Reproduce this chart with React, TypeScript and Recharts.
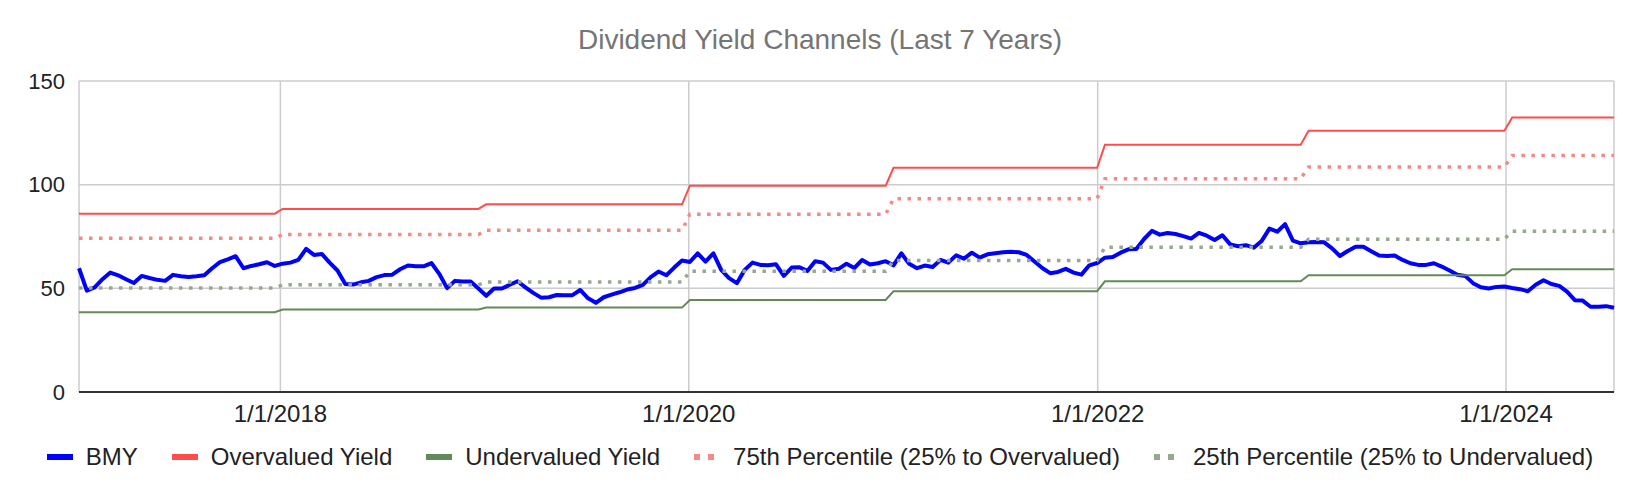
import { CartesianGrid, Line, LineChart, XAxis, YAxis } from 'recharts';

// biweekly samples, first one on 1/6/2017
const START_DATE = Date.UTC(2017, 0, 6);
const STEP_DAYS = 14;
const DAY_MS = 24 * 60 * 60 * 1000;

// BMY dividend yield (scaled), one value per sample
const BMY = [
    59.7, 48.9, 50.5, 54.4, 57.6, 56.3, 54.4, 52.6, 56.0, 55.0,
    54.1, 53.6, 56.5, 55.8, 55.5, 55.8, 56.3, 59.7, 62.6, 64.0,
    65.5, 59.7, 60.8, 61.6, 62.6, 60.8, 61.9, 62.4, 63.7, 69.0,
    66.1, 66.6, 62.4, 58.6, 52.1, 51.8, 52.9, 53.6, 55.4, 56.4,
    56.6, 59.2, 61.0, 60.6, 60.6, 62.2, 57.0, 50.1, 53.6, 53.3,
    53.3, 49.9, 46.4, 49.9, 49.9, 51.7, 53.4, 50.5, 47.8, 45.5,
    45.7, 46.8, 46.7, 46.7, 49.2, 45.2, 43.0, 45.7, 47.0, 48.1,
    49.4, 50.2, 51.7, 55.4, 58.1, 56.3, 60.0, 63.4, 62.7, 66.9,
    62.9, 66.9, 58.9, 54.9, 52.5, 58.9, 62.4, 61.3, 61.1, 61.6,
    56.0, 60.0, 60.2, 58.4, 63.1, 62.4, 58.9, 59.4, 61.9, 59.8,
    63.7, 61.5, 62.1, 63.1, 61.1, 66.9, 61.8, 59.7, 61.0, 60.3,
    63.7, 62.4, 65.9, 64.3, 67.2, 64.8, 66.4, 66.9, 67.4, 67.7,
    67.4, 66.1, 62.9, 59.8, 57.3, 57.9, 59.4, 57.6, 56.6, 61.1,
    62.2, 64.8, 65.1, 67.2, 68.8, 69.0, 73.8, 77.7, 75.9, 76.7,
    76.2, 75.2, 74.0, 76.7, 75.4, 73.3, 75.6, 71.2, 70.3, 70.8,
    69.6, 72.8, 78.8, 77.3, 81.0, 73.0, 71.7, 72.2, 72.3, 72.2,
    69.3, 65.6, 68.0, 70.1, 70.1, 67.9, 65.8, 65.6, 65.8, 63.7,
    62.1, 61.3, 61.3, 62.1, 60.5, 58.6, 56.5, 56.0, 52.5, 50.5,
    49.9, 50.7, 50.9, 50.2, 49.6, 48.6, 51.7, 53.9, 52.1, 51.2,
    48.4, 44.3, 44.1, 41.1, 41.1, 41.4, 40.6,
];

// channel levels, reset every January
const CHANNEL_YEARS = [2017, 2018, 2019, 2020, 2021, 2022, 2023, 2024];
const OVERVALUED = [86.0, 88.3, 90.5, 99.5, 108.1, 119.2, 126.0, 132.4];
const P75 = [74.1, 76.0, 78.0, 85.7, 93.2, 102.9, 108.5, 114.1];
const P25 = [50.2, 51.7, 53.0, 58.2, 63.4, 69.8, 73.7, 77.5];
const UNDERVALUED = [38.5, 39.8, 40.7, 44.4, 48.6, 53.4, 56.3, 59.2];

const X_TICKS = [Date.UTC(2018, 0, 1), Date.UTC(2020, 0, 1), Date.UTC(2022, 0, 1), Date.UTC(2024, 0, 1)];
const Y_TICKS = [0, 50, 100, 150];

const COLORS = {
    bmy: '#0000ff',
    over: '#ff4d4d',
    under: '#628a59',
    p75: '#f48a86',
    p25: '#96a98e',
};

const FONT = '"Liberation Sans", Arial, sans-serif';

const LEGEND_ITEMS = [
    { label: 'BMY', color: COLORS.bmy, dotted: false },
    { label: 'Overvalued Yield', color: COLORS.over, dotted: false },
    { label: 'Undervalued Yield', color: COLORS.under, dotted: false },
    { label: '75th Percentile (25% to Overvalued)', color: COLORS.p75, dotted: true },
    { label: '25th Percentile (25% to Undervalued)', color: COLORS.p25, dotted: true },
];

const chartData = BMY.map((value, i) => {
    const t = START_DATE + i * STEP_DAYS * DAY_MS;
    const idx = CHANNEL_YEARS.indexOf(new Date(t).getUTCFullYear());
    return {
        t,
        bmy: value,
        over: OVERVALUED[idx],
        under: UNDERVALUED[idx],
        p75: P75[idx],
        p25: P25[idx],
    };
});

function formatDate(t: number) {
    const d = new Date(t);
    return `${d.getUTCMonth() + 1}/${d.getUTCDate()}/${d.getUTCFullYear()}`;
}

function Swatch({ color, dotted }: { color: string; dotted: boolean }) {
    return (
        <svg width={26} height={8} style={{ display: 'block' }}>
            <line
                x1={0}
                y1={4}
                x2={26}
                y2={4}
                stroke={color}
                strokeWidth={6}
                strokeDasharray={dotted ? '6 8' : undefined}
            />
        </svg>
    );
}

export default function App() {
    document.body.style.margin = '0';

    return (
        <div style={{ position: 'relative', width: 1640, height: 494, background: '#fff', fontFamily: FONT }}>
            <div
                style={{
                    position: 'absolute',
                    top: 23,
                    left: 0,
                    width: 1640,
                    textAlign: 'center',
                    fontSize: 28,
                    lineHeight: '34px',
                    color: '#757575',
                }}
            >
                Dividend Yield Channels (Last 7 Years)
            </div>

            <LineChart width={1640} height={494} data={chartData} margin={{ top: 81, right: 26, bottom: 62, left: 0 }}>
                <CartesianGrid stroke="#cccccc" strokeWidth={1.5} />
                <XAxis
                    dataKey="t"
                    type="number"
                    scale="time"
                    domain={['dataMin', 'dataMax']}
                    ticks={X_TICKS}
                    tickFormatter={formatDate}
                    height={40}
                    axisLine={{ stroke: '#333333', strokeWidth: 2 }}
                    tickLine={false}
                    tickMargin={7}
                    tick={{ fontSize: 24, fill: '#222222', fontFamily: FONT }}
                />
                <YAxis
                    type="number"
                    domain={[0, 150]}
                    ticks={Y_TICKS}
                    width={79}
                    axisLine={false}
                    tickLine={false}
                    tickMargin={8}
                    tick={{ fontSize: 22, fill: '#222222', fontFamily: FONT }}
                />
                <Line
                    dataKey="bmy"
                    type="linear"
                    stroke={COLORS.bmy}
                    strokeWidth={4}
                    strokeLinejoin="round"
                    dot={false}
                    activeDot={false}
                    isAnimationActive={false}
                />
                <Line
                    dataKey="over"
                    type="linear"
                    stroke={COLORS.over}
                    strokeWidth={2}
                    dot={false}
                    activeDot={false}
                    isAnimationActive={false}
                />
                <Line
                    dataKey="under"
                    type="linear"
                    stroke={COLORS.under}
                    strokeWidth={2}
                    dot={false}
                    activeDot={false}
                    isAnimationActive={false}
                />
                <Line
                    dataKey="p75"
                    type="linear"
                    stroke={COLORS.p75}
                    strokeWidth={3.5}
                    strokeDasharray="3.5 6.5"
                    dot={false}
                    activeDot={false}
                    isAnimationActive={false}
                />
                <Line
                    dataKey="p25"
                    type="linear"
                    stroke={COLORS.p25}
                    strokeWidth={3.5}
                    strokeDasharray="3.5 6.5"
                    dot={false}
                    activeDot={false}
                    isAnimationActive={false}
                />
            </LineChart>

            <div
                style={{
                    position: 'absolute',
                    top: 442,
                    left: 0,
                    width: 1640,
                    display: 'flex',
                    justifyContent: 'center',
                    alignItems: 'center',
                    gap: 34,
                    fontSize: 24,
                    lineHeight: '30px',
                    color: '#222222',
                }}
            >
                {LEGEND_ITEMS.map((item) => (
                    <div key={item.label} style={{ display: 'flex', alignItems: 'center', gap: 13 }}>
                        <Swatch color={item.color} dotted={item.dotted} />
                        <span>{item.label}</span>
                    </div>
                ))}
            </div>
        </div>
    );
}
